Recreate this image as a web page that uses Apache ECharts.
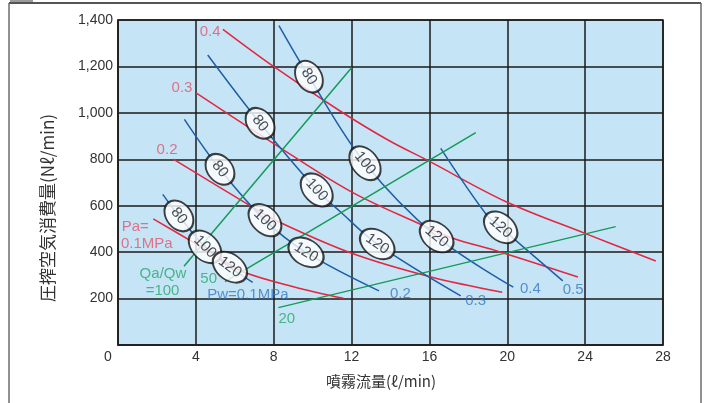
<!DOCTYPE html>
<html><head><meta charset="utf-8">
<script src="https://cdn.jsdelivr.net/npm/echarts@6/dist/echarts.min.js"></script>
<style>html,body{margin:0;padding:0;background:#fff}#c{width:708px;height:403px}</style>
</head><body><div id="c"></div>
<script>
// ---- data (x: 噴霧流量 ℓ/min, y: 圧搾空気消費量 Nℓ/min) ----
const xTicks = [0, 4, 8, 12, 16, 20, 24, 28];
const yTicks = [0, 200, 400, 600, 800, 1000, 1200, 1400];

// air pressure curves Pa (red)
const pa01 = [[1.81,543],[3.96,438],[5.3,370],[6.52,312],[9.01,251],[11.58,201]];
const pa02 = [[2.84,801],[6.87,596],[8.24,531],[12.01,395],[16.03,294],[19.74,227]];
const pa03 = [[4.01,1086],[7.96,870],[11.92,663],[15.62,517],[17.16,461],[19.63,401],[23.63,293]];
const pa04 = [[5.39,1360],[8.01,1199],[11.41,1008],[13.87,883],[15.93,794],[19.97,616],[23.99,481],[27.63,362]];

// water pressure curves Pw (blue)
const pw01 = [[2.30,649],[3.13,556],[4.47,423],[5.75,335],[6.92,270]];
const pw02 = [[3.41,972],[5.24,757],[7.55,538],[9.66,399],[13.41,233]];
const pw03 = [[4.61,1249],[7.30,955],[10.21,668],[11.41,575],[13.32,435],[17.61,212]];
const pw04 = [[8.27,1376],[9.81,1156],[12.69,783],[16.37,467],[20.31,249]];
const pw05 = [[16.58,847],[18.94,560],[19.66,507],[22.85,276]];

// air/water ratio lines Qa/Qw (green)
const qr100 = [[3.39,339],[12.01,1195]];
const qr50  = [[5.50,273],[18.38,915]];
const qr20  = [[8.24,161],[25.57,510]];

// nozzle-size ellipse markers: [x, y, text, index of Pw curve]
const ellipseMarks = [
  [3.13,556,'80',0],[4.47,423,'100',0],[5.75,335,'120',0],
  [5.24,757,'80',1],[7.55,538,'100',1],[9.66,399,'120',1],
  [7.30,955,'80',2],[10.21,668,'100',2],[13.32,435,'120',2],
  [9.81,1156,'80',3],[12.69,783,'100',3],[16.37,467,'120',3],
  [19.66,507,'120',4]
];

// annotations [x, y, text]
const paLabels = [[4.73,1348,'0.4'],[3.29,1107,'0.3'],[2.52,840,'0.2']];
const paNote = [[0.19,510,'Pa='],[0.15,437,'0.1MPa']];
const qrLabels = [[2.31,308,'Qa/Qw'],[2.29,234,'=100'],[4.66,287,'50'],[8.67,112,'20']];
const pwLabels = [[6.67,215,'Pw=0.1MPa'],[14.51,220,'0.2'],[18.37,190,'0.3'],[21.19,241,'0.4'],[23.38,237,'0.5']];

// ---- styles ----
const RED = '#e4263f', RED_T = '#e3546c';
const BLUE = '#1f5ea6', BLUE_T = '#3a77bf';
const GREEN = '#159a58', GREEN_T = '#28a86a';
const FONT = '"Liberation Sans", Arial, sans-serif';
const CJK = '"Noto Sans CJK JP", sans-serif';

const paCurves = [pa01, pa02, pa03, pa04];
const pwCurves = [pw01, pw02, pw03, pw04, pw05];
const qrLines = [qr100, qr50, qr20];

const chart = echarts.init(document.getElementById('c'), null, {renderer: 'canvas'});

function lineSeries(d, color) {
  return {type: 'line', data: d, smooth: 0.35, showSymbol: false, symbol: 'none',
    lineStyle: {color: color, width: 1.5}, z: 3, silent: true};
}
function textSeries(d, color, align) {
  return {type: 'scatter', data: d.map(p => ({value: [p[0], p[1]], name: p[2]})),
    symbol: 'circle', symbolSize: 1, itemStyle: {color: 'rgba(0,0,0,0)'}, z: 6, silent: true,
    label: {show: true, position: 'inside', formatter: p => p.name, color: color,
      fontFamily: FONT, fontSize: 15, align: align || 'center', verticalAlign: 'middle'}};
}

const series = [];
paCurves.forEach(c => series.push(lineSeries(c, RED)));
pwCurves.forEach(c => series.push(lineSeries(c, BLUE)));
qrLines.forEach(c => series.push(Object.assign(lineSeries(c, GREEN), {smooth: false})));
series.push(textSeries(paLabels, RED_T));
series.push(textSeries(paNote, RED_T, 'left'));
series.push(textSeries(qrLabels, GREEN_T));
series.push(textSeries(pwLabels, BLUE_T));

const option = {
  animation: false,
  backgroundColor: '#fff',
  grid: {left: 118, right: 45, top: 20, bottom: 58, show: true, backgroundColor: '#c5e5f7',
    borderColor: '#222', borderWidth: 1.5},
  xAxis: {type: 'value', min: xTicks[0], max: xTicks[xTicks.length-1], interval: xTicks[1]-xTicks[0],
    name: '噴霧流量(ℓ/min)', nameLocation: 'middle', nameGap: 29,
    nameTextStyle: {fontFamily: CJK, fontSize: 15, color: '#333', padding: [0, 19, 0, 0]},
    axisLine: {show: true, lineStyle: {color: '#222', width: 1.5}},
    axisTick: {show: false},
    axisLabel: {margin: 5, color: '#333', fontFamily: FONT, fontSize: 14,
      formatter: v => v === 0 ? '{o|0}' : String(v),
      rich: {o: {padding: [0, 20, 0, 0], color: '#333', fontFamily: FONT, fontSize: 14}}},
    splitLine: {show: true, lineStyle: {color: '#1a1a1a', width: 1.5}}},
  yAxis: {type: 'value', min: yTicks[0], max: yTicks[yTicks.length-1], interval: yTicks[1]-yTicks[0],
    name: '圧搾空気消費量(Nℓ/min)', nameLocation: 'middle', nameGap: 62, nameRotate: 90,
    nameTextStyle: {fontFamily: CJK, fontSize: 17, color: '#333', padding: [0, 51, 0, 0]},
    axisLine: {show: true, lineStyle: {color: '#222', width: 1.5}},
    axisTick: {show: false},
    axisLabel: {margin: 5, color: '#333', fontFamily: FONT, fontSize: 14,
      formatter: v => v === 0 ? '' : v.toLocaleString('en-US')},
    splitLine: {show: true, lineStyle: {color: '#1a1a1a', width: 1.5}}},
  graphic: [
    {type: 'rect', shape: {x: 9, y: 3, width: 692, height: 420}, style: {fill: 'none', stroke: '#222', lineWidth: 1}, z: 0, silent: true},
    {type: 'line', shape: {x1: 9, y1: 3, x2: 701, y2: 3}, style: {stroke: '#555', lineWidth: 2}, z: 0, silent: true},
    {type: 'rect', shape: {x: 10, y: 0, width: 23, height: 2}, style: {fill: '#9a9a9a'}, z: 0, silent: true}
  ],
  series: series
};
chart.setOption(option);

// ellipse markers oriented along their Pw curve (angle from the curve's pixel slope)
function angleAt(curve, x) {
  let i = 0;
  while (i < curve.length - 2 && curve[i+1][0] < x) i++;
  let a = curve[Math.max(0, i)], b = curve[Math.min(curve.length-1, i+1)];
  for (let k = 0; k < curve.length; k++) {
    if (Math.abs(curve[k][0] - x) < 1e-6) {
      a = curve[Math.max(0, k-1)]; b = curve[Math.min(curve.length-1, k+1)];
    }
  }
  const pa = chart.convertToPixel({gridIndex: 0}, a);
  const pb = chart.convertToPixel({gridIndex: 0}, b);
  return Math.atan2(pb[1]-pa[1], pb[0]-pa[0]) * 180 / Math.PI;
}
const ellipseData = ellipseMarks.map(m => {
  const ang = angleAt(pwCurves[m[3]], m[0]);
  const big = m[2].length > 2;
  return {value: [m[0], m[1]], name: m[2], symbolRotate: -ang,
    symbolSize: big ? [38, 26] : [34, 25],
    label: {rotate: -ang}};
});
series.push({type: 'scatter', data: ellipseData, symbol: 'circle', z: 5, silent: true,
  itemStyle: {color: '#fff', borderColor: '#111', borderWidth: 2},
  label: {show: true, position: 'inside', formatter: p => p.name, color: '#222',
    fontFamily: FONT, fontSize: 15}});
chart.setOption({series: series});
</script>
</body></html>
